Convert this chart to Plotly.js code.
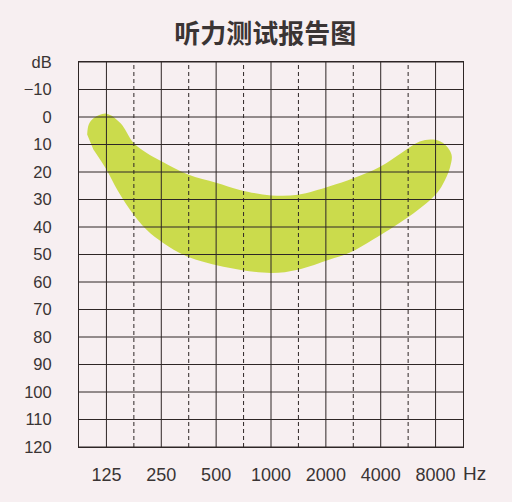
<!DOCTYPE html>
<html>
<head>
<meta charset="utf-8">
<script src="https://cdn.plot.ly/plotly-3.0.1.min.js"></script>
<style>
  html, body { margin: 0; padding: 0; background: #f7eff1; }
  #chart { width: 512px; height: 502px; }
</style>
</head>
<body>
<div id="chart"></div>
<script>
// octave frequencies on the x axis (Hz)
const freqs = [125, 250, 500, 1000, 2000, 4000, 8000];
const freqLabels = ['125', '250', '500', '1000', '2000', '4000', '8000'];

// dB levels on the y axis, top row is the unit label
const dbTicks = [-20, -10, 0, 10, 20, 30, 40, 50, 60, 70, 80, 90, 100, 110, 120];
const dbLabels = ['dB', '\u221210', '0', '10', '20', '30', '40', '50', '60', '70', '80', '90', '100', '110', '120'];

// speech banana outline, upper edge left -> right (round tip included)
const upperHz = [98, 100, 107, 125, 149, 176, 207, 250, 351, 500, 674, 1000, 1405, 2100, 2828, 3945, 5315, 6542, 7727, 8752, 9781, 9580, 8752];
const upperDb = [6.4, 2.7, 0.3, -1.2, 2.2, 9.4, 13, 16.1, 20.9, 23.9, 26.5, 28.5, 28.3, 25.2, 22.3, 18.2, 12.6, 8.9, 8.2, 9.4, 13.6, 18.5, 24.5];
// lower edge right -> left
const lowerHz = [8055, 6822, 5775, 4469, 3630, 2695, 2100, 1405, 1000, 587, 344, 255, 207, 168, 143, 125, 106];
const lowerDb = [28, 32.4, 36, 40.9, 44.5, 49.4, 51.8, 55.5, 56.7, 54.8, 50.6, 45.7, 40.9, 33.6, 26.4, 19.1, 11.8];

const halfOct = freqs.slice(0, -1).map(f => f * Math.SQRT2);
const xMin = freqs[0] / Math.SQRT2;
const xMax = freqs[freqs.length - 1] * Math.SQRT2;

const gridColor = '#2e2626';
const textColor = '#3a3434';

const banana = {
    type: 'scatter',
    x: upperHz.concat(lowerHz),
    y: upperDb.concat(lowerDb),
    mode: 'lines',
    line: { shape: 'spline', smoothing: 1, width: 0, color: '#cbdb4c' },
    fill: 'toself',
    fillcolor: '#cbdb4c',
    hoverinfo: 'skip'
};

// grid drawn as shapes so it sits on top of the banana like in the picture
const shapes = [];
dbTicks.forEach(v => shapes.push({
    type: 'line', layer: 'above', xref: 'paper', yref: 'y',
    x0: 0, x1: 1, y0: v, y1: v,
    line: { color: gridColor, width: 1 }
}));
freqs.forEach(f => shapes.push({
    type: 'line', layer: 'above', xref: 'x', yref: 'paper',
    x0: f, x1: f, y0: 0, y1: 1,
    line: { color: gridColor, width: 1 }
}));
halfOct.forEach(f => shapes.push({
    type: 'line', layer: 'above', xref: 'x', yref: 'paper',
    x0: f, x1: f, y0: 0, y1: 1,
    line: { color: gridColor, width: 1, dash: '4px,3px' }
}));

const layout = {
    width: 512,
    height: 502,
    paper_bgcolor: '#f7eff1',
    plot_bgcolor: '#f7eff1',
    margin: { l: 79, r: 49, t: 62, b: 55 },
    showlegend: false,
    title: {
        text: '听力测试报告图',
        font: { family: 'Noto Sans CJK SC', size: 26, color: '#3a3434', weight: 'bold' },
        x: 0.518, xanchor: 'center',
        y: 0.932, yanchor: 'middle'
    },
    xaxis: {
        type: 'log',
        range: [Math.log10(xMin), Math.log10(xMax)],
        tickmode: 'array',
        tickvals: freqs,
        ticktext: freqLabels,
        showgrid: false,
        zeroline: false,
        showline: true, mirror: true, linecolor: gridColor, linewidth: 1,
        ticks: '',
        ticklabelstandoff: 11,
        tickfont: { family: 'Liberation Sans, Arial, sans-serif', size: 18, color: textColor },
        fixedrange: true
    },
    yaxis: {
        range: [120, -20],
        tickmode: 'array',
        tickvals: dbTicks,
        ticktext: dbLabels,
        showgrid: false,
        zeroline: false,
        showline: true, mirror: true, linecolor: gridColor, linewidth: 1,
        ticks: '',
        ticklabelstandoff: 23,
        tickfont: { family: 'Liberation Sans, Arial, sans-serif', size: 16.5, color: textColor },
        fixedrange: true
    },
    shapes: shapes,
    annotations: [{
        text: 'Hz', xref: 'paper', yref: 'paper',
        x: 0.995, xanchor: 'left', y: -0.07, yanchor: 'middle',
        showarrow: false,
        font: { family: 'Liberation Sans, Arial, sans-serif', size: 19, color: textColor }
    }]
};

Plotly.newPlot('chart', [banana], layout, { displayModeBar: false, staticPlot: true });
</script>
</body>
</html>
